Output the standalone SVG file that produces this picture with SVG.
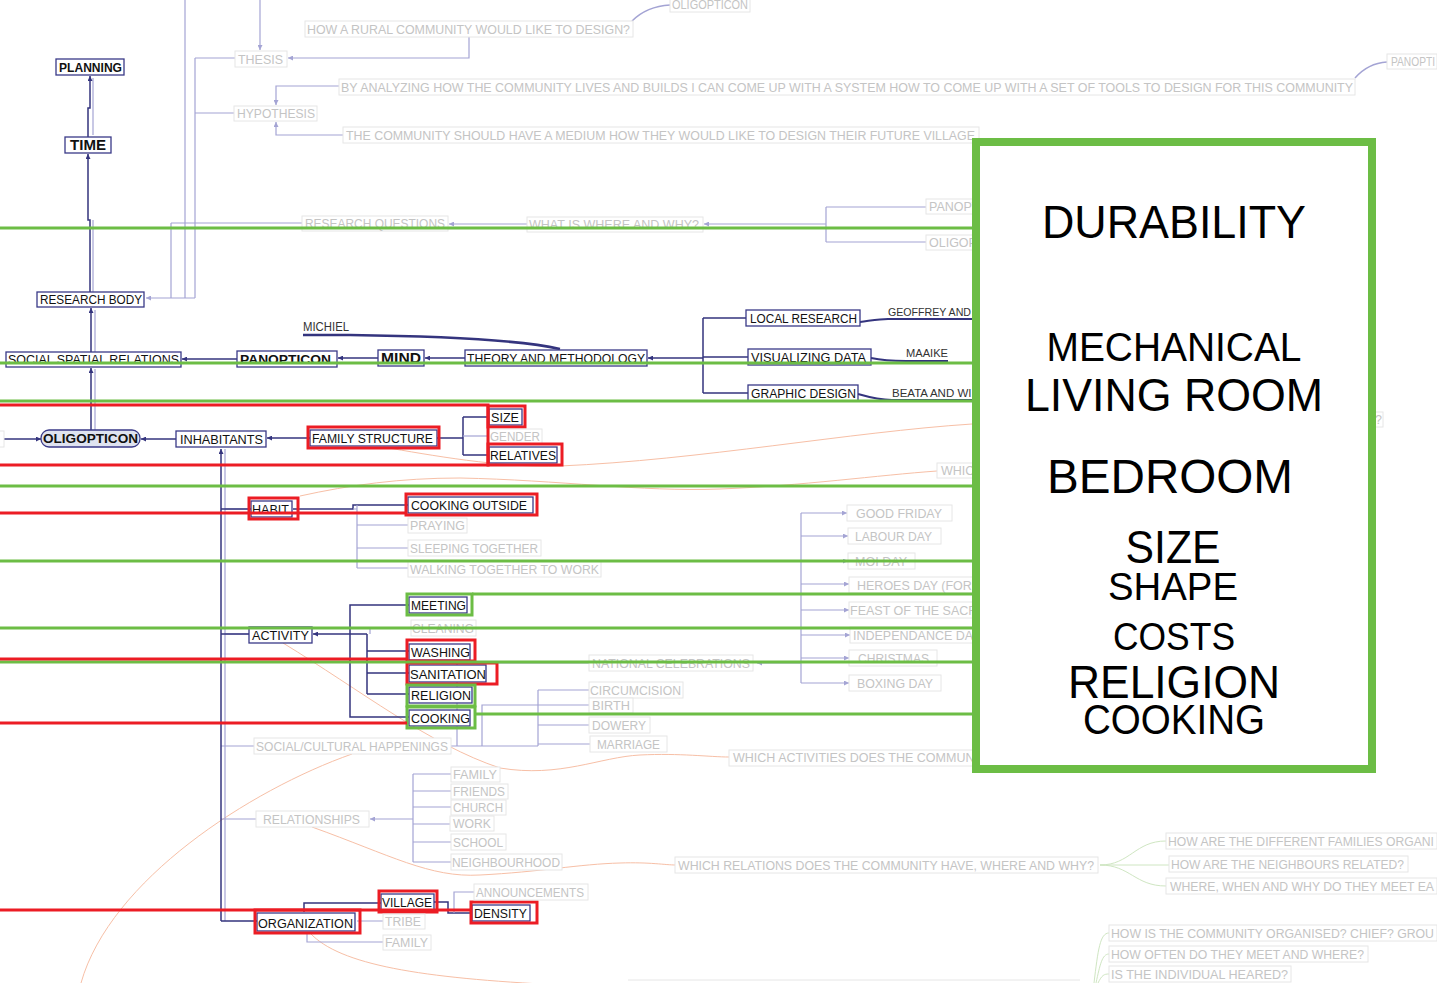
<svg xmlns="http://www.w3.org/2000/svg" width="1437" height="983" viewBox="0 0 1437 983">
<style>
text{font-family:"Liberation Sans",Arial,sans-serif;}
.g{font-size:12.5px;fill:#c4c4c4;}
.d{font-size:12.5px;fill:#111;}
.b{font-weight:bold;}
.gb{fill:#fff;stroke:#e6e6e6;stroke-width:1;}
.db{fill:#fff;stroke:#3a3a88;stroke-width:1.3;}
.lv{fill:none;stroke:#a4a4d4;stroke-width:1.2;}
.nv{fill:none;stroke:#34347e;stroke-width:1.5;}
.or{fill:none;stroke:#f7bfa6;stroke-width:1;}
.lg{fill:none;stroke:#cfe6c2;stroke-width:1;}
.red{fill:none;stroke:#ec1c24;stroke-width:3;}
.grn{fill:none;stroke:#6cbd45;stroke-width:3;}
.big{font-size:46px;fill:#000;text-anchor:middle;}
</style>
<defs>
<marker id="an" viewBox="0 0 6 6" refX="6" refY="3" markerWidth="5" markerHeight="5" markerUnits="userSpaceOnUse" orient="auto"><path d="M0,0 L6,3 L0,6 z" fill="#34347e"/></marker>
<marker id="al" viewBox="0 0 6 6" refX="6" refY="3" markerWidth="5" markerHeight="5" markerUnits="userSpaceOnUse" orient="auto"><path d="M0,0 L6,3 L0,6 z" fill="#a4a4d4"/></marker>
</defs>
<rect width="1437" height="983" fill="#fff"/>

<g id="connectors">
<path class="or" d="M383,447 C430,455 500,468 560,466 C700,460 850,432 972,424 C1100,418 1300,418 1373,419"/>
<path class="or" d="M300,496 C350,485 400,478 460,478 C560,480 640,492 720,489 C800,486 880,475 937,471"/>
<path class="or" d="M283,643 C360,690 430,745 500,768 C560,778 600,757 640,755 C680,753 710,757 729,757"/>
<path class="or" d="M352,754 C250,790 110,880 81,983"/>
<path class="or" d="M312,827 C390,855 430,878 480,875 C540,872 580,864 620,863 C650,862 665,865 676,865"/>
<path class="or" d="M310,933 C340,965 420,978 560,985"/>
<path class="lg" d="M1100,865 C1130,865 1135,841 1166,841 M1100,865 H1169 M1100,865 C1130,865 1135,886 1166,886"/>
<path class="lg" d="M1094,983 C1098,950 1100,933 1109,933 M1096,983 C1100,965 1102,954 1109,954 M1098,983 C1102,975 1104,974 1109,974"/>
<path class="lv" d="M260,0 V50" marker-end="url(#al)"/>
<path class="lv" d="M185,0 V298 M195,58 V298 M171,223 V298 M195,58 H235 M195,113 H234 M171,223 H302"/>
<path class="lv" d="M195,298 H146" marker-end="url(#al)"/>
<path class="lv" d="M469,37 V58 H288" marker-end="url(#al)"/>
<path class="lv" d="M339,86 H276 V105" marker-end="url(#al)"/>
<path class="lv" d="M343,135 H276 V122" marker-end="url(#al)"/>
<path fill="none" stroke="#a4a4d4" stroke-width="1.5" d="M670,5 C652,6 641,12 632,21"/>
<path fill="none" stroke="#a4a4d4" stroke-width="1.5" d="M1387,62 C1371,63 1362,70 1355,78"/>
<path class="lv" d="M527,224 H449" marker-end="url(#al)"/>
<path class="lv" d="M826,224 H704" marker-end="url(#al)"/>
<path class="lv" d="M826,207 V242 M826,207 H926 M826,242 H926"/>
<path class="lv" d="M93,292 V220 M93,135 V78 M95,352 V310 M95,430 V369"/>
<path class="nv" d="M90,292 V220 H88 V154" marker-end="url(#an)"/>
<path class="nv" d="M88,137 V108 H90 V76" marker-end="url(#an)"/>
<path class="nv" d="M91,352 V308" marker-end="url(#an)"/>
<path class="nv" d="M91,430 V368" marker-end="url(#an)"/>
<path class="nv" d="M237,359 H182" marker-end="url(#an)"/>
<path class="nv" d="M378,358 H338" marker-end="url(#an)"/>
<path class="nv" d="M465,358 H425" marker-end="url(#an)"/>
<path class="nv" d="M703,358 H648" marker-end="url(#an)"/>
<path class="nv" d="M703,318 V393 M703,318 H746 M703,357 H748 M703,393 H748"/>
<path fill="none" stroke="#34347e" stroke-width="2.5" d="M303,335 H350 C430,336 520,340 560,349"/>
<path fill="none" stroke="#34347e" stroke-width="2" d="M860,322 C875,320 880,319 888,319 H972"/>
<path fill="none" stroke="#34347e" stroke-width="2" d="M871,358 C885,361 895,361 906,361 H948"/>
<path fill="none" stroke="#34347e" stroke-width="2" d="M858,394 C872,398 880,400 892,400 H972"/>
<path class="nv" d="M4,439 H41" marker-end="url(#an)"/>
<path class="nv" d="M176,439 H141" marker-end="url(#an)"/>
<path class="nv" d="M310,438 H267" marker-end="url(#an)"/>
<path class="nv" d="M437,438 H463 M463,417 V455 M463,417 H489 M463,455 H489"/>
<path class="lv" d="M463,436 H489"/>
<path class="lv" d="M225,449 V921 M225,509 H251 M225,634 H249 M221,746 H254 M221,819 H256"/>
<path class="nv" d="M221,921 V449" marker-end="url(#an)"/>
<path class="nv" d="M221,509 H251 M221,634 H249 M221,921 H257"/>
<path class="nv" d="M293,509 H353 V505 H408"/>
<path class="lv" d="M353,509 H357 M357,505 V568 M357,525 H408 M357,548 H408 M357,568 H408"/>
<path class="nv" d="M367,634 H313" marker-end="url(#an)"/>
<path class="nv" d="M350,634 V605 H409 M350,634 V717 H409 M367,634 V694 M367,651 H409 M367,673 H409 M367,694 H409"/>
<path class="lv" d="M370,634 V628 H411"/>
<path class="lv" d="M451,746 H538 M457,746 V663 H589 M482,746 V705 H589 M538,690 V746 M538,690 H589 M538,725 H589 M538,744 H590"/>
<path class="lv" d="M801,663 H757" marker-end="url(#al)"/>
<path class="lv" d="M801,513 V683"/>
<path class="lv" d="M801,513 H847" marker-end="url(#al)"/>
<path class="lv" d="M801,536 H848" marker-end="url(#al)"/>
<path class="lv" d="M801,561 H848" marker-end="url(#al)"/>
<path class="lv" d="M801,584 H849" marker-end="url(#al)"/>
<path class="lv" d="M801,610 H849" marker-end="url(#al)"/>
<path class="lv" d="M801,635 H850" marker-end="url(#al)"/>
<path class="lv" d="M801,658 H849" marker-end="url(#al)"/>
<path class="lv" d="M801,683 H849" marker-end="url(#al)"/>
<path class="lv" d="M413,819 H370" marker-end="url(#al)"/>
<path class="lv" d="M413,774 V862 M413,774 H451 M413,791 H451 M413,807 H451 M413,824 H450 M413,842 H451 M413,862 H451"/>
<path class="nv" d="M304,912 V903 H381"/>
<path class="lv" d="M357,921 H383 M307,932 V942 H383"/>
<path class="nv" d="M434,902 H448 V913 H472"/>
<path class="lv" d="M454,913 V892 H474"/>
<path stroke="#e6e6e6" stroke-width="1" d="M628,980 H1080"/>
</g>

<g id="n-oligopticon-top"><rect class="gb" x="670" y="-2" width="80" height="14"/><text class="g" x="672" y="9" textLength="76" lengthAdjust="spacingAndGlyphs">OLIGOPTICON</text></g>
<g id="n-rural"><rect class="gb" x="305" y="21" width="328" height="16"/><text class="g" x="307" y="34" textLength="323" lengthAdjust="spacingAndGlyphs">HOW A RURAL COMMUNITY WOULD LIKE TO DESIGN?</text></g>
<g id="n-thesis"><rect class="gb" x="235" y="51" width="52" height="16"/><text class="g" x="238" y="64" textLength="45" lengthAdjust="spacingAndGlyphs">THESIS</text></g>
<g id="n-hypothesis"><rect class="gb" x="234" y="106" width="83" height="15"/><text class="g" x="237" y="118" textLength="78" lengthAdjust="spacingAndGlyphs">HYPOTHESIS</text></g>
<g id="n-analyzing"><rect class="gb" x="339" y="79" width="1016" height="16"/><text class="g" x="341" y="92" textLength="1012" lengthAdjust="spacingAndGlyphs">BY ANALYZING HOW THE COMMUNITY LIVES AND BUILDS I CAN COME UP WITH A SYSTEM HOW TO COME UP WITH A SET OF TOOLS TO DESIGN FOR THIS COMMUNITY</text></g>
<g id="n-medium"><rect class="gb" x="343" y="127" width="636" height="16"/><text class="g" x="346" y="140" textLength="629" lengthAdjust="spacingAndGlyphs">THE COMMUNITY SHOULD HAVE A MEDIUM HOW THEY WOULD LIKE TO DESIGN THEIR FUTURE VILLAGE</text></g>
<g id="n-panopti-top"><rect class="gb" x="1387" y="54" width="50" height="15"/><text class="g" x="1391" y="66" textLength="44" lengthAdjust="spacingAndGlyphs">PANOPTI</text></g>
<g id="n-rq"><rect class="gb" x="302" y="216" width="146" height="15"/><text class="g" x="305" y="228" textLength="140" lengthAdjust="spacingAndGlyphs">RESEARCH QUESTIONS</text></g>
<g id="n-what"><rect class="gb" x="527" y="217" width="176" height="15"/><text class="g" x="529" y="229" textLength="170" lengthAdjust="spacingAndGlyphs">WHAT IS WHERE AND WHY?</text></g>
<g id="n-panopt"><rect class="gb" x="926" y="199" width="54" height="15"/><text class="g" x="929" y="211">PANOPTICON</text></g>
<g id="n-oligop"><rect class="gb" x="926" y="235" width="54" height="15"/><text class="g" x="929" y="247">OLIGOPTICON</text></g>

<g id="n-planning"><rect class="db" x="56" y="59" width="68" height="16"/><text class="d b" x="59" y="72" textLength="63" lengthAdjust="spacingAndGlyphs">PLANNING</text></g>
<g id="n-time"><rect class="db" x="65" y="137" width="46" height="16"/><text class="d b" x="70" y="150" style="font-size:14px" textLength="36" lengthAdjust="spacingAndGlyphs">TIME</text></g>
<g id="n-research-body"><rect class="db" x="37" y="292" width="107" height="15"/><text class="d" x="40" y="304" textLength="102" lengthAdjust="spacingAndGlyphs">RESEARCH BODY</text></g>
<g id="n-michiel"><text class="d" x="303" y="331" style="fill:#333" textLength="46" lengthAdjust="spacingAndGlyphs">MICHIEL</text></g>
<g id="n-social-spatial"><rect class="db" x="6" y="352" width="175" height="15"/><text class="d" x="8" y="364" textLength="171" lengthAdjust="spacingAndGlyphs">SOCIAL SPATIAL RELATIONS</text></g>
<g id="n-panopticon"><rect class="db" x="237" y="351" width="100" height="16"/><text class="d b" x="240" y="364" textLength="91" lengthAdjust="spacingAndGlyphs">PANOPTICON</text></g>
<g id="n-mind"><rect class="db" x="378" y="350" width="46" height="16"/><text class="d b" x="381" y="363" style="font-size:14px" textLength="40" lengthAdjust="spacingAndGlyphs">MIND</text></g>
<g id="n-theory"><rect class="db" x="465" y="350" width="182" height="16"/><text class="d" x="467" y="363" textLength="178" lengthAdjust="spacingAndGlyphs">THEORY AND METHODOLOGY</text></g>
<g id="n-local"><rect class="db" x="746" y="310" width="114" height="16"/><text class="d" x="750" y="323" textLength="107" lengthAdjust="spacingAndGlyphs">LOCAL RESEARCH</text></g>
<g id="n-visualizing"><rect class="db" x="748" y="349" width="123" height="16"/><text class="d" x="751" y="362" textLength="115" lengthAdjust="spacingAndGlyphs">VISUALIZING DATA</text></g>
<g id="n-graphic"><rect class="db" x="748" y="385" width="110" height="16"/><text class="d" x="751" y="398" textLength="105" lengthAdjust="spacingAndGlyphs">GRAPHIC DESIGN</text></g>
<g id="n-geoffrey"><text class="d" x="888" y="316" style="font-size:11.5px;fill:#333" textLength="83" lengthAdjust="spacingAndGlyphs">GEOFFREY AND</text></g>
<g id="n-maaike"><text class="d" x="906" y="357" style="font-size:11.5px;fill:#333" textLength="42" lengthAdjust="spacingAndGlyphs">MAAIKE</text></g>
<g id="n-beata"><text class="d" x="892" y="397" style="font-size:11.5px;fill:#333">BEATA AND WI</text></g>
<g id="n-left-stub"><rect class="gb" x="-4" y="431" width="8" height="16"/></g>
<g id="n-oligopticon"><rect x="41" y="430" width="99" height="17" rx="8" fill="#dfe3f0" stroke="#3a3a88" stroke-width="1.3"/><text class="d b" x="43" y="443" textLength="95" lengthAdjust="spacingAndGlyphs">OLIGOPTICON</text></g>
<g id="n-inhabitants"><rect class="db" x="176" y="431" width="90" height="16"/><text class="d" x="180" y="444" textLength="83" lengthAdjust="spacingAndGlyphs">INHABITANTS</text></g>
<g id="n-family-structure"><rect class="db" x="310" y="430" width="127" height="16"/><text class="d" x="312" y="443" textLength="121" lengthAdjust="spacingAndGlyphs">FAMILY STRUCTURE</text><rect class="red" x="308" y="427" width="131" height="21"/></g>
<g id="n-size"><rect class="db" x="489" y="409" width="33" height="16"/><text class="d" x="491" y="422" textLength="28" lengthAdjust="spacingAndGlyphs">SIZE</text><rect class="red" x="488" y="406" width="37" height="21"/></g>
<g id="n-gender"><rect class="gb" x="489" y="429" width="53" height="15"/><text class="g" x="490" y="441" textLength="50" lengthAdjust="spacingAndGlyphs">GENDER</text></g>
<g id="n-relatives"><rect class="db" x="489" y="447" width="68" height="16"/><text class="d" x="490" y="460" textLength="66" lengthAdjust="spacingAndGlyphs">RELATIVES</text><rect class="red" x="488" y="444" width="74" height="21"/></g>
<g id="n-q"><rect class="gb" x="1373" y="412" width="10" height="15"/><text class="g" x="1375" y="424">?</text></g>
<g id="n-whic"><rect class="gb" x="937" y="463" width="43" height="15"/><text class="g" x="941" y="475">WHICH</text></g>

<g id="n-habit"><rect class="db" x="251" y="501" width="41" height="16"/><text class="d" x="252" y="514" textLength="37" lengthAdjust="spacingAndGlyphs">HABIT</text><rect class="red" x="249" y="498" width="49" height="21"/></g>
<g id="n-cooking-outside"><rect class="db" x="408" y="497" width="125" height="16"/><text class="d" x="411" y="510" textLength="116" lengthAdjust="spacingAndGlyphs">COOKING OUTSIDE</text><rect class="red" x="406" y="494" width="131" height="21"/></g>
<g id="n-praying"><rect class="gb" x="408" y="518" width="59" height="15"/><text class="g" x="410" y="530" textLength="55" lengthAdjust="spacingAndGlyphs">PRAYING</text></g>
<g id="n-sleeping"><rect class="gb" x="408" y="540" width="133" height="16"/><text class="g" x="410" y="553" textLength="128" lengthAdjust="spacingAndGlyphs">SLEEPING TOGETHER</text></g>
<g id="n-walking"><rect class="gb" x="408" y="561" width="193" height="16"/><text class="g" x="410" y="574" textLength="189" lengthAdjust="spacingAndGlyphs">WALKING TOGETHER TO WORK</text></g>
<g id="n-activity"><rect class="db" x="249" y="627" width="63" height="16"/><text class="d" x="252" y="640" textLength="57" lengthAdjust="spacingAndGlyphs">ACTIVITY</text></g>
<g id="n-meeting"><rect class="db" x="409" y="597" width="58" height="16"/><text class="d" x="411" y="610" textLength="55" lengthAdjust="spacingAndGlyphs">MEETING</text><rect class="grn" x="407" y="594" width="65" height="21"/></g>
<g id="n-cleaning"><rect class="gb" x="411" y="620" width="65" height="16"/><text class="g" x="412" y="633" textLength="62" lengthAdjust="spacingAndGlyphs">CLEANING</text></g>
<g id="n-washing"><rect class="db" x="409" y="644" width="61" height="16"/><text class="d" x="411" y="657" textLength="59" lengthAdjust="spacingAndGlyphs">WASHING</text><rect class="red" x="407" y="640" width="68" height="21"/></g>
<g id="n-sanitation"><rect class="db" x="409" y="665" width="77" height="17"/><text class="d" x="410" y="679" textLength="76" lengthAdjust="spacingAndGlyphs">SANITATION</text><rect class="red" x="407" y="663" width="90" height="21"/></g>
<g id="n-religion"><rect class="db" x="409" y="687" width="63" height="16"/><text class="d" x="411" y="700" textLength="60" lengthAdjust="spacingAndGlyphs">RELIGION</text><rect class="grn" x="407" y="685" width="68" height="21"/></g>
<g id="n-cooking"><rect class="db" x="409" y="710" width="61" height="16"/><text class="d" x="411" y="723" textLength="59" lengthAdjust="spacingAndGlyphs">COOKING</text><rect class="grn" x="407" y="707" width="68" height="21"/></g>
<g id="n-good-friday"><rect class="gb" x="847" y="505" width="105" height="16"/><text class="g" x="856" y="518" textLength="86" lengthAdjust="spacingAndGlyphs">GOOD FRIDAY</text></g>
<g id="n-labour"><rect class="gb" x="848" y="528" width="93" height="16"/><text class="g" x="855" y="541" textLength="77" lengthAdjust="spacingAndGlyphs">LABOUR DAY</text></g>
<g id="n-moi"><rect class="gb" x="848" y="553" width="67" height="16"/><text class="g" x="855" y="566" textLength="52" lengthAdjust="spacingAndGlyphs">MOI DAY</text></g>
<g id="n-heroes"><rect class="gb" x="849" y="577" width="131" height="16"/><text class="g" x="857" y="590">HEROES DAY (FOR</text></g>
<g id="n-feast"><rect class="gb" x="849" y="602" width="131" height="16"/><text class="g" x="850" y="615">FEAST OF THE SACR</text></g>
<g id="n-independance"><rect class="gb" x="850" y="627" width="130" height="16"/><text class="g" x="853" y="640">INDEPENDANCE DAY</text></g>
<g id="n-christmas"><rect class="gb" x="849" y="650" width="88" height="16"/><text class="g" x="858" y="663" textLength="71" lengthAdjust="spacingAndGlyphs">CHRISTMAS</text></g>
<g id="n-boxing"><rect class="gb" x="849" y="675" width="92" height="16"/><text class="g" x="857" y="688" textLength="76" lengthAdjust="spacingAndGlyphs">BOXING DAY</text></g>
<g id="n-national"><rect class="gb" x="589" y="655" width="164" height="16"/><text class="g" x="592" y="668" textLength="158" lengthAdjust="spacingAndGlyphs">NATIONAL CELEBRATIONS</text></g>
<g id="n-circumcision"><rect class="gb" x="589" y="682" width="94" height="16"/><text class="g" x="590" y="695" textLength="91" lengthAdjust="spacingAndGlyphs">CIRCUMCISION</text></g>
<g id="n-birth"><rect class="gb" x="589" y="698" width="44" height="15"/><text class="g" x="592" y="710" textLength="38" lengthAdjust="spacingAndGlyphs">BIRTH</text></g>
<g id="n-dowery"><rect class="gb" x="589" y="717" width="61" height="16"/><text class="g" x="592" y="730" textLength="54" lengthAdjust="spacingAndGlyphs">DOWERY</text></g>
<g id="n-marriage"><rect class="gb" x="590" y="736" width="77" height="16"/><text class="g" x="597" y="749" textLength="63" lengthAdjust="spacingAndGlyphs">MARRIAGE</text></g>
<g id="n-social-cultural"><rect class="gb" x="254" y="738" width="197" height="16"/><text class="g" x="256" y="751" textLength="192" lengthAdjust="spacingAndGlyphs">SOCIAL/CULTURAL HAPPENINGS</text></g>
<g id="n-which-activities"><rect class="gb" x="729" y="750" width="251" height="16"/><text class="g" x="733" y="762">WHICH ACTIVITIES DOES THE COMMUNITY</text></g>
<g id="n-family1"><rect class="gb" x="451" y="767" width="49" height="15"/><text class="g" x="453" y="779" textLength="44" lengthAdjust="spacingAndGlyphs">FAMILY</text></g>
<g id="n-friends"><rect class="gb" x="451" y="784" width="57" height="15"/><text class="g" x="453" y="796" textLength="52" lengthAdjust="spacingAndGlyphs">FRIENDS</text></g>
<g id="n-church"><rect class="gb" x="451" y="800" width="55" height="15"/><text class="g" x="453" y="812" textLength="50" lengthAdjust="spacingAndGlyphs">CHURCH</text></g>
<g id="n-work"><rect class="gb" x="450" y="816" width="44" height="15"/><text class="g" x="453" y="828" textLength="38" lengthAdjust="spacingAndGlyphs">WORK</text></g>
<g id="n-school"><rect class="gb" x="451" y="834" width="55" height="16"/><text class="g" x="453" y="847" textLength="50" lengthAdjust="spacingAndGlyphs">SCHOOL</text></g>
<g id="n-neighbourhood"><rect class="gb" x="451" y="854" width="111" height="16"/><text class="g" x="452" y="867" textLength="108" lengthAdjust="spacingAndGlyphs">NEIGHBOURHOOD</text></g>
<g id="n-relationships"><rect class="gb" x="256" y="811" width="113" height="16"/><text class="g" x="263" y="824" textLength="97" lengthAdjust="spacingAndGlyphs">RELATIONSHIPS</text></g>
<g id="n-which-relations"><rect class="gb" x="675" y="857" width="423" height="16"/><text class="g" x="678" y="870" textLength="416" lengthAdjust="spacingAndGlyphs">WHICH RELATIONS DOES THE COMMUNITY HAVE, WHERE AND WHY?</text></g>
<g id="n-families-org"><rect class="gb" x="1166" y="833" width="271" height="16"/><text class="g" x="1168" y="846" textLength="266" lengthAdjust="spacingAndGlyphs">HOW ARE THE DIFFERENT FAMILIES ORGANI</text></g>
<g id="n-neighbours"><rect class="gb" x="1169" y="856" width="239" height="16"/><text class="g" x="1171" y="869" textLength="233" lengthAdjust="spacingAndGlyphs">HOW ARE THE NEIGHBOURS RELATED?</text></g>
<g id="n-where-when"><rect class="gb" x="1166" y="878" width="271" height="16"/><text class="g" x="1170" y="891" textLength="264" lengthAdjust="spacingAndGlyphs">WHERE, WHEN AND WHY DO THEY MEET EA</text></g>
<g id="n-organization"><rect class="db" x="257" y="913" width="98" height="18"/><text class="d" x="258" y="928" textLength="95" lengthAdjust="spacingAndGlyphs">ORGANIZATION</text><rect class="red" x="255" y="910" width="105" height="23"/></g>
<g id="n-village"><rect class="db" x="381" y="894" width="53" height="16"/><text class="d" x="382" y="907" textLength="50" lengthAdjust="spacingAndGlyphs">VILLAGE</text><rect class="red" x="379" y="891" width="58" height="21"/></g>
<g id="n-density"><rect class="db" x="472" y="905" width="58" height="16"/><text class="d" x="474" y="918" textLength="53" lengthAdjust="spacingAndGlyphs">DENSITY</text><rect class="red" x="471" y="902" width="66" height="21"/></g>
<g id="n-announcements"><rect class="gb" x="474" y="884" width="114" height="16"/><text class="g" x="476" y="897" textLength="108" lengthAdjust="spacingAndGlyphs">ANNOUNCEMENTS</text></g>
<g id="n-tribe"><rect class="gb" x="383" y="914" width="42" height="15"/><text class="g" x="385" y="926" textLength="36" lengthAdjust="spacingAndGlyphs">TRIBE</text></g>
<g id="n-family2"><rect class="gb" x="383" y="935" width="48" height="15"/><text class="g" x="385" y="947" textLength="43" lengthAdjust="spacingAndGlyphs">FAMILY</text></g>
<g id="n-how-organised"><rect class="gb" x="1109" y="925" width="328" height="16"/><text class="g" x="1111" y="938" textLength="323" lengthAdjust="spacingAndGlyphs">HOW IS THE COMMUNITY ORGANISED? CHIEF? GROU</text></g>
<g id="n-how-often"><rect class="gb" x="1109" y="946" width="259" height="16"/><text class="g" x="1111" y="959" textLength="253" lengthAdjust="spacingAndGlyphs">HOW OFTEN DO THEY MEET AND WHERE?</text></g>
<g id="n-heared"><rect class="gb" x="1109" y="966" width="182" height="16"/><text class="g" x="1111" y="979" textLength="177" lengthAdjust="spacingAndGlyphs">IS THE INDIVIDUAL HEARED?</text></g>

<g id="highlight-lines">
<path class="grn" d="M0,228 H972 M0,363 H972 M0,401 H972 M0,486 H972 M0,561 H972 M472,594 H972 M0,628 H972 M0,662 H972 M475,714 H972"/>
<path class="red" d="M0,405 H488 V465 H0 M0,513 H406 M0,659 H407 M0,723 H407 M0,910 H471"/>
</g>

<g id="n-summary">
<rect x="976" y="142" width="396" height="627" fill="#fff" stroke="#6cbd45" stroke-width="8"/>
<text class="big" x="1174" y="238" textLength="264" lengthAdjust="spacingAndGlyphs">DURABILITY</text>
<text class="big" x="1174" y="361" style="font-size:40px" textLength="255" lengthAdjust="spacingAndGlyphs">MECHANICAL</text>
<text class="big" x="1174" y="411" style="font-size:47px" textLength="298" lengthAdjust="spacingAndGlyphs">LIVING ROOM</text>
<text class="big" x="1170" y="493" style="font-size:48px" textLength="246" lengthAdjust="spacingAndGlyphs">BEDROOM</text>
<text class="big" x="1173" y="563" style="font-size:46px" textLength="95" lengthAdjust="spacingAndGlyphs">SIZE</text>
<text class="big" x="1173" y="600" style="font-size:39px" textLength="130" lengthAdjust="spacingAndGlyphs">SHAPE</text>
<text class="big" x="1174" y="650" style="font-size:38px" textLength="122" lengthAdjust="spacingAndGlyphs">COSTS</text>
<text class="big" x="1174" y="698" style="font-size:46px" textLength="212" lengthAdjust="spacingAndGlyphs">RELIGION</text>
<text class="big" x="1174" y="734" style="font-size:42px" textLength="182" lengthAdjust="spacingAndGlyphs">COOKING</text>
</g>
</svg>
